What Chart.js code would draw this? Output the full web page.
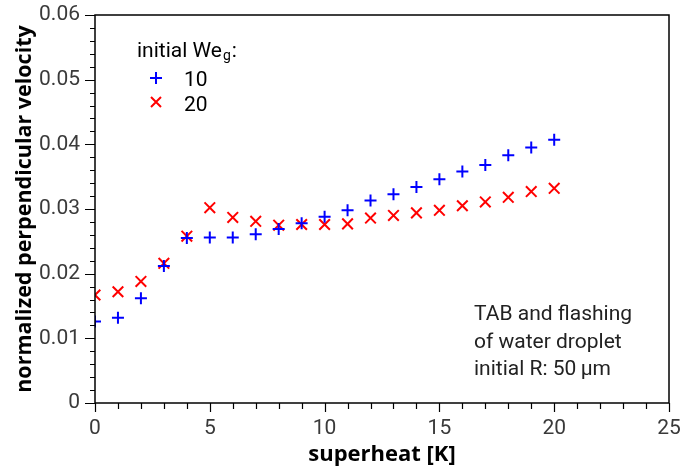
<!DOCTYPE html>
<html>
<head>
<meta charset="utf-8">
<script src="https://cdn.jsdelivr.net/npm/chart.js@4"></script>
<style>
  html, body { margin: 0; padding: 0; background: #fff; }
  #wrap { width: 685px; height: 470px; }
</style>
</head>
<body>
<div id="wrap"><canvas id="chart" width="685" height="470"></canvas></div>
<script>
// superheat [K] on x, normalized perpendicular velocity on y
const superheat = [0, 1, 2, 3, 4, 5, 6, 7, 8, 9, 10, 11, 12, 13, 14, 15, 16, 17, 18, 19, 20];
const we10 = [0.0126, 0.0132, 0.0162, 0.0212, 0.0255, 0.0256, 0.0256, 0.0261, 0.0269, 0.0278, 0.0288,
              0.0298, 0.0313, 0.0323, 0.0334, 0.0346, 0.0358, 0.0368, 0.0383, 0.0395, 0.0407];
const we20 = [0.0167, 0.0172, 0.0188, 0.0216, 0.0258, 0.0302, 0.0287, 0.0281, 0.0275, 0.0276, 0.0276,
              0.0277, 0.0286, 0.0290, 0.0294, 0.0298, 0.0305, 0.0311, 0.0318, 0.0327, 0.0332];
const xTickLabels = ['0', '5', '10', '15', '20', '25'];
const yTickLabels = ['0', '0.01', '0.02', '0.03', '0.04', '0.05', '0.06'];
const legendLabels = ['10', '20'];
const noteLines = ['TAB and flashing', 'of water droplet', 'initial R: 50\u2009\u00b5m'];

const FONT = 'Roboto, "DejaVu Sans", sans-serif';
const BOLD = '"Open Sans", "DejaVu Sans", sans-serif';
const BLUE = '#0000ff';
const RED = '#ff0000';

const isMajor = (v, step) => Math.abs(v / step - Math.round(v / step)) < 1e-6;

// box, tick marks, legend and note text
const decorPlugin = {
    id: 'decor',
    afterDraw(chart) {
        const ctx = chart.ctx;
        const a = chart.chartArea;
        const xs = chart.scales.x, ys = chart.scales.y;
        ctx.save();
        ctx.strokeStyle = '#000';
        ctx.lineWidth = 1.5;
        ctx.strokeRect(a.left, a.top, a.right - a.left, a.bottom - a.top);

        ctx.lineWidth = 1.2;
        ctx.beginPath();
        xs.ticks.forEach(t => {
            const px = Math.round(xs.getPixelForValue(t.value)) + 0.5;
            const len = isMajor(t.value, 5) ? 9 : 6;
            ctx.moveTo(px, a.bottom);
            ctx.lineTo(px, a.bottom + len);
        });
        ys.ticks.forEach(t => {
            const py = Math.round(ys.getPixelForValue(t.value)) + 0.5;
            const len = isMajor(t.value, 0.01) ? 10 : 5;
            ctx.moveTo(a.left, py);
            ctx.lineTo(a.left - len, py);
        });
        ctx.stroke();

        // legend
        ctx.fillStyle = '#000';
        ctx.font = '21px ' + FONT;
        ctx.textBaseline = 'alphabetic';
        ctx.textAlign = 'left';
        const lx = 137, ly = 57;
        ctx.fillText('initial We', lx, ly);
        const w1 = ctx.measureText('initial We').width;
        ctx.font = '14px ' + FONT;
        ctx.fillText('g', lx + w1 + 1, ly + 3);
        const w2 = ctx.measureText('g').width;
        ctx.font = '21px ' + FONT;
        ctx.fillText(':', lx + w1 + w2 + 2, ly);

        ctx.lineWidth = 2;
        ctx.strokeStyle = BLUE;
        ctx.beginPath();
        ctx.moveTo(150, 78); ctx.lineTo(162, 78);
        ctx.moveTo(156, 72); ctx.lineTo(156, 84);
        ctx.stroke();
        ctx.strokeStyle = RED;
        ctx.beginPath();
        ctx.moveTo(151, 97); ctx.lineTo(161, 107);
        ctx.moveTo(161, 97); ctx.lineTo(151, 107);
        ctx.stroke();
        ctx.fillText(legendLabels[0], 184, 86);
        ctx.fillText(legendLabels[1], 184, 111);

        // note
        ctx.fillStyle = '#222';
        noteLines.forEach((s, i) => ctx.fillText(s, 474, 320 + i * 27.5));
        ctx.restore();
    }
};

new Chart(document.getElementById('chart'), {
    type: 'scatter',
    data: {
        datasets: [
            {
                label: legendLabels[0],
                data: superheat.map((x, i) => ({ x: x, y: we10[i] })),
                pointStyle: 'cross',
                pointRadius: 6,
                pointBorderWidth: 2,
                borderColor: BLUE,
                backgroundColor: BLUE
            },
            {
                label: legendLabels[1],
                data: superheat.map((x, i) => ({ x: x, y: we20[i] })),
                pointStyle: 'crossRot',
                pointRadius: 7.5,
                pointBorderWidth: 2,
                borderColor: RED,
                backgroundColor: RED
            }
        ]
    },
    options: {
        responsive: false,
        animation: false,
        layout: { padding: { top: 15, right: 16, left: 0, bottom: 0 } },
        plugins: {
            legend: { display: false },
            tooltip: { enabled: false }
        },
        scales: {
            x: {
                type: 'linear',
                min: 0,
                max: 25,
                afterFit: s => { s.height = 67; s.paddingLeft = 0; s.paddingRight = 0; },
                ticks: {
                    stepSize: 1,
                    autoSkip: false,
                    maxRotation: 0,
                    padding: 13,
                    color: '#3a3a3a',
                    font: { family: FONT, size: 21 },
                    callback: v => isMajor(v, 5) ? xTickLabels[Math.round(v / 5)] : ''
                },
                grid: { display: true, drawOnChartArea: false, drawTicks: false },
                border: { display: false },
                title: {
                    display: true,
                    text: 'superheat [K]',
                    color: '#000',
                    font: { family: BOLD, size: 22, weight: 'bold' },
                    padding: { top: 0, bottom: 2 }
                }
            },
            y: {
                type: 'linear',
                min: 0,
                max: 0.06,
                afterFit: s => { s.width = 95; s.paddingTop = 0; s.paddingBottom = 0; },
                ticks: {
                    stepSize: 0.002,
                    autoSkip: false,
                    padding: 15,
                    color: '#3a3a3a',
                    font: { family: FONT, size: 21 },
                    callback: v => isMajor(v, 0.01) ? yTickLabels[Math.round(v / 0.01)] : ''
                },
                grid: { display: true, drawOnChartArea: false, drawTicks: false },
                border: { display: false },
                title: {
                    display: true,
                    text: 'normalized perpendicular velocity',
                    color: '#000',
                    font: { family: BOLD, size: 21.5, weight: 'bold' },
                    padding: { top: 12, bottom: 0 }
                }
            }
        }
    },
    plugins: [decorPlugin]
});
</script>
</body>
</html>
